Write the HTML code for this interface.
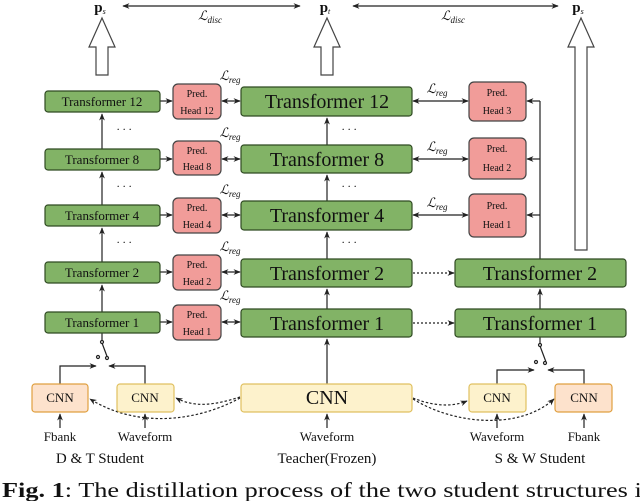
<!DOCTYPE html>
<html><head><meta charset="utf-8"><style>
html,body{margin:0;padding:0;background:#fff;}
svg{display:block;font-family:"Liberation Serif",serif;}
</style></head><body>
<svg width="640" height="501" viewBox="0 0 640 501" xmlns="http://www.w3.org/2000/svg">
<defs>
<marker id="a" viewBox="0 0 10 10" refX="9" refY="5" markerWidth="6" markerHeight="6" orient="auto-start-reverse"><path d="M0,1 L10,5 L0,9 L3,5 z" fill="#222"/></marker>
</defs>
<g stroke="#222" stroke-width="1.2" fill="none">
<line x1="123" y1="6" x2="300" y2="6" marker-start="url(#a)" marker-end="url(#a)"/>
<line x1="353" y1="6" x2="558" y2="6" marker-start="url(#a)" marker-end="url(#a)"/>
<path d="M102,18 L115,47 L108,47 L108,75 L96,75 L96,47 L89,47 Z" stroke="#444"/>
<path d="M327,18 L340,47 L333,47 L333,75 L321,75 L321,47 L314,47 Z" stroke="#444"/>
<path d="M581,18 L594,47 L587,47 L587,250 L575,250 L575,47 L568,47 Z" stroke="#444"/>
<line x1="102" y1="149" x2="102" y2="114" marker-end="url(#a)"/>
<line x1="102" y1="205" x2="102" y2="172" marker-end="url(#a)"/>
<line x1="102" y1="262" x2="102" y2="228" marker-end="url(#a)"/>
<line x1="102" y1="312" x2="102" y2="285" marker-end="url(#a)"/>
<line x1="327" y1="145" x2="327" y2="118" marker-end="url(#a)"/>
<line x1="327" y1="201" x2="327" y2="175" marker-end="url(#a)"/>
<line x1="327" y1="259" x2="327" y2="232" marker-end="url(#a)"/>
<line x1="327" y1="309" x2="327" y2="289" marker-end="url(#a)"/>
<line x1="327" y1="384" x2="327" y2="339" marker-end="url(#a)"/>
<line x1="160" y1="101" x2="172" y2="101" marker-end="url(#a)"/>
<line x1="160" y1="159" x2="172" y2="159" marker-end="url(#a)"/>
<line x1="160" y1="215" x2="172" y2="215" marker-end="url(#a)"/>
<line x1="160" y1="272" x2="172" y2="272" marker-end="url(#a)"/>
<line x1="160" y1="322" x2="172" y2="322" marker-end="url(#a)"/>
<line x1="222" y1="101" x2="240" y2="101" marker-start="url(#a)" marker-end="url(#a)"/>
<line x1="222" y1="159" x2="240" y2="159" marker-start="url(#a)" marker-end="url(#a)"/>
<line x1="222" y1="215" x2="240" y2="215" marker-start="url(#a)" marker-end="url(#a)"/>
<line x1="222" y1="272" x2="240" y2="272" marker-start="url(#a)" marker-end="url(#a)"/>
<line x1="222" y1="322" x2="240" y2="322" marker-start="url(#a)" marker-end="url(#a)"/>
<line x1="413" y1="101" x2="468" y2="101" marker-start="url(#a)" marker-end="url(#a)"/>
<line x1="413" y1="159" x2="468" y2="159" marker-start="url(#a)" marker-end="url(#a)"/>
<line x1="413" y1="215" x2="468" y2="215" marker-start="url(#a)" marker-end="url(#a)"/>
<line x1="540" y1="259" x2="540" y2="101"/>
<line x1="540" y1="101" x2="527" y2="101" marker-end="url(#a)"/>
<line x1="540" y1="159" x2="527" y2="159" marker-end="url(#a)"/>
<line x1="540" y1="215" x2="527" y2="215" marker-end="url(#a)"/>
<line x1="540" y1="309" x2="540" y2="289" marker-end="url(#a)"/>
<line x1="413" y1="273" x2="454" y2="273" stroke-dasharray="2,2" marker-end="url(#a)"/>
<line x1="413" y1="323" x2="454" y2="323" stroke-dasharray="2,2" marker-end="url(#a)"/>
<line x1="102" y1="333" x2="102" y2="341"/>
<line x1="102" y1="343" x2="108" y2="359"/>
<circle cx="102" cy="342" r="1.5" fill="#fff"/>
<circle cx="98" cy="357" r="1.5" fill="#fff"/>
<circle cx="107" cy="358" r="1.5" fill="#fff"/>
<path d="M60,384 L60,366 L96,366" marker-end="url(#a)"/>
<path d="M145,384 L145,366 L109,366" marker-end="url(#a)"/>
<line x1="540" y1="337" x2="540" y2="344"/>
<line x1="540" y1="346" x2="546" y2="362"/>
<circle cx="540" cy="345" r="1.5" fill="#fff"/>
<circle cx="536" cy="362" r="1.5" fill="#fff"/>
<circle cx="545" cy="363" r="1.5" fill="#fff"/>
<path d="M497,384 L497,370 L534,370" marker-end="url(#a)"/>
<path d="M584,384 L584,370 L548,370" marker-end="url(#a)"/>
<line x1="60" y1="428" x2="60" y2="414" marker-end="url(#a)"/>
<line x1="145" y1="428" x2="145" y2="414" marker-end="url(#a)"/>
<line x1="327" y1="428" x2="327" y2="414" marker-end="url(#a)"/>
<line x1="497" y1="428" x2="497" y2="414" marker-end="url(#a)"/>
<line x1="584" y1="428" x2="584" y2="414" marker-end="url(#a)"/>
<g stroke-dasharray="2.5,2">
<path d="M240,397 C215,405 195,408 176,398" marker-end="url(#a)"/>
<path d="M240,398 C200,420 140,430 90,399" marker-end="url(#a)"/>
<path d="M413,398 C430,405 450,408 467,401" marker-end="url(#a)"/>
<path d="M413,399 C455,425 520,430 554,399" marker-end="url(#a)"/>
</g>
</g>
<g stroke="#2f4a22" stroke-width="1.2" fill="#82b366">
<rect x="45" y="91" width="115" height="21" rx="3"/>
<rect x="45" y="149" width="115" height="21" rx="3"/>
<rect x="45" y="205" width="115" height="21" rx="3"/>
<rect x="45" y="262" width="115" height="21" rx="3"/>
<rect x="45" y="312" width="115" height="21" rx="3"/>
<rect x="241" y="87" width="171" height="29" rx="3"/>
<rect x="241" y="145" width="171" height="28" rx="3"/>
<rect x="241" y="201" width="171" height="29" rx="3"/>
<rect x="241" y="259" width="171" height="28" rx="3"/>
<rect x="241" y="309" width="171" height="28" rx="3"/>
<rect x="455" y="259" width="171" height="28" rx="3"/>
<rect x="455" y="309" width="171" height="28" rx="3"/>
</g>
<g stroke="#444" stroke-width="1.2" fill="#f19c99">
<rect x="173" y="84" width="48" height="35" rx="5"/>
<rect x="173" y="141" width="48" height="34" rx="5"/>
<rect x="173" y="198" width="48" height="35" rx="5"/>
<rect x="173" y="255" width="48" height="35" rx="5"/>
<rect x="173" y="305" width="48" height="35" rx="5"/>
<rect x="469" y="82" width="57" height="39" rx="5"/>
<rect x="469" y="138" width="57" height="41" rx="5"/>
<rect x="469" y="194" width="57" height="43" rx="5"/>
</g>
<g stroke-width="1.2">
<rect x="32" y="384" width="56" height="28" rx="3" fill="#fde2cc" stroke="#e0a040"/>
<rect x="117" y="384" width="57" height="28" rx="3" fill="#fdf2cc" stroke="#e0c060"/>
<rect x="241" y="384" width="171" height="28" rx="3" fill="#fdf2cc" stroke="#e0c060"/>
<rect x="469" y="384" width="57" height="28" rx="3" fill="#fdf2cc" stroke="#e0c060"/>
<rect x="555" y="384" width="57" height="28" rx="3" fill="#fde2cc" stroke="#e0a040"/>
</g>
<g fill="#111" text-anchor="middle">
<g font-size="13">
<text x="102" y="106">Transformer 12</text>
<text x="102" y="164">Transformer 8</text>
<text x="102" y="220">Transformer 4</text>
<text x="102" y="277">Transformer 2</text>
<text x="102" y="327">Transformer 1</text>
</g>
<g font-size="20">
<text x="327" y="108">Transformer 12</text>
<text x="327" y="166">Transformer 8</text>
<text x="327" y="222">Transformer 4</text>
<text x="327" y="280">Transformer 2</text>
<text x="327" y="330">Transformer 1</text>
<text x="540" y="280">Transformer 2</text>
<text x="540" y="330">Transformer 1</text>
<text x="327" y="404">CNN</text>
</g>
<g font-size="10">
<text x="197" y="97">Pred.</text><text x="197" y="114">Head 12</text>
<text x="197" y="154">Pred.</text><text x="197" y="170">Head 8</text>
<text x="197" y="211">Pred.</text><text x="197" y="228">Head 4</text>
<text x="197" y="268">Pred.</text><text x="197" y="285">Head 2</text>
<text x="197" y="318">Pred.</text><text x="197" y="335">Head 1</text>
<text x="497" y="96">Pred.</text><text x="497" y="114">Head 3</text>
<text x="497" y="152">Pred.</text><text x="497" y="171">Head 2</text>
<text x="497" y="209">Pred.</text><text x="497" y="228">Head 1</text>
</g>
<g font-size="13">
<text x="60" y="402">CNN</text><text x="145" y="402">CNN</text>
<text x="497" y="402">CNN</text><text x="584" y="402">CNN</text>
<text x="60" y="441">Fbank</text><text x="145" y="441">Waveform</text>
<text x="327" y="441">Waveform</text><text x="497" y="441">Waveform</text>
<text x="584" y="441">Fbank</text>
</g>
<g font-size="15">
<text x="100" y="463">D &amp; T Student</text>
<text x="327" y="463">Teacher(Frozen)</text>
<text x="540" y="463">S &amp; W Student</text>
</g>
<g font-size="12" font-style="italic">
<text x="124" y="133">· · ·</text><text x="124" y="190">· · ·</text><text x="124" y="246">· · ·</text>
<text x="349" y="133">· · ·</text><text x="349" y="190">· · ·</text><text x="349" y="246">· · ·</text>
</g>
<g font-size="13" font-style="italic">
<text x="230" y="80">ℒ<tspan font-size="9" dy="3">reg</tspan></text>
<text x="230" y="137">ℒ<tspan font-size="9" dy="3">reg</tspan></text>
<text x="230" y="194">ℒ<tspan font-size="9" dy="3">reg</tspan></text>
<text x="230" y="251">ℒ<tspan font-size="9" dy="3">reg</tspan></text>
<text x="230" y="300">ℒ<tspan font-size="9" dy="3">reg</tspan></text>
<text x="437" y="93">ℒ<tspan font-size="9" dy="3">reg</tspan></text>
<text x="437" y="151">ℒ<tspan font-size="9" dy="3">reg</tspan></text>
<text x="437" y="207">ℒ<tspan font-size="9" dy="3">reg</tspan></text>
<text x="210" y="20">ℒ<tspan font-size="9" dy="3">disc</tspan></text>
<text x="453" y="20">ℒ<tspan font-size="9" dy="3">disc</tspan></text>
</g>
<g font-size="15" font-weight="bold">
<text x="100" y="12">p<tspan font-size="8" font-style="italic" font-weight="normal" dy="2">s</tspan></text>
<text x="325" y="12">p<tspan font-size="8" font-style="italic" font-weight="normal" dy="2">t</tspan></text>
<text x="578" y="12">p<tspan font-size="8" font-style="italic" font-weight="normal" dy="2">s</tspan></text>
</g>
</g>
<text x="2" y="497" font-size="21" fill="#111" textLength="650" lengthAdjust="spacingAndGlyphs"><tspan font-weight="bold">Fig. 1</tspan>: The distillation process of the two student structures is</text>
</svg>
</body></html>
